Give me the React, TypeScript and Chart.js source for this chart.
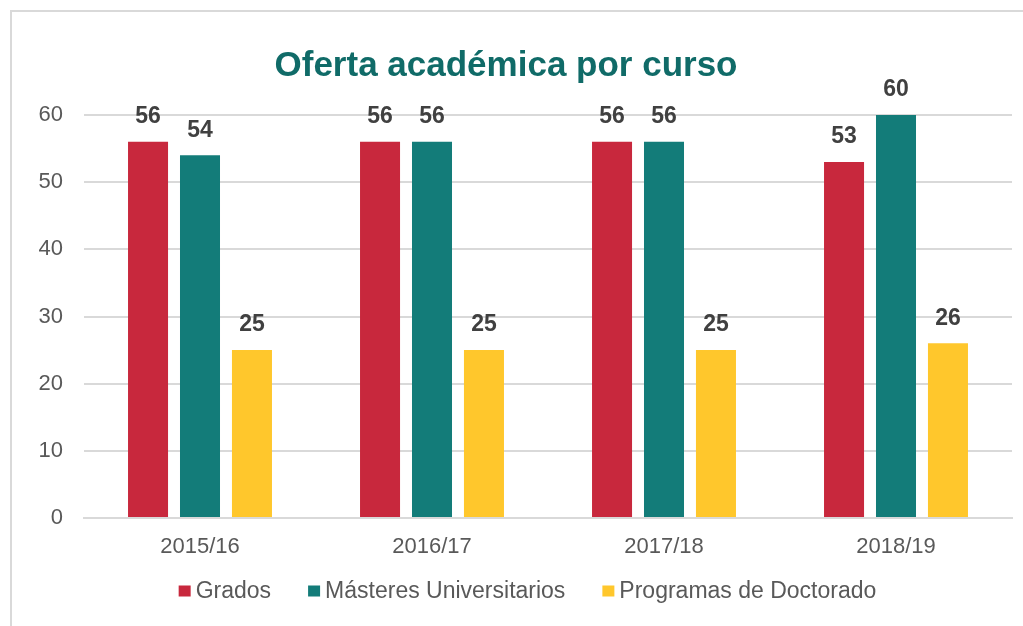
import React, { useEffect, useRef } from "react";
import { Chart, registerables } from "chart.js";

Chart.register(...registerables);

const categories = ["2015/16", "2016/17", "2017/18", "2018/19"];
const grados = [56, 56, 56, 53];
const masteres = [54, 56, 56, 60];
const doctorado = [25, 25, 25, 26];
const yTicks = [0, 10, 20, 30, 40, 50, 60];

const FONT = "'Liberation Sans', Arial, sans-serif";

const framePlugin = {
  id: "frame",
  beforeDraw(chart: any) {
    const ctx = chart.ctx;
    ctx.save();
    ctx.fillStyle = "#ffffff";
    ctx.fillRect(0, 0, chart.width, chart.height);
    ctx.strokeStyle = "#d9d9d9";
    ctx.lineWidth = 2;
    ctx.strokeRect(11, 11, chart.width + 20, chart.height + 20);
    ctx.restore();
  },
};

const labelPlugin = {
  id: "valueLabels",
  afterDatasetsDraw(chart: any) {
    const ctx = chart.ctx;
    ctx.save();
    ctx.font = `bold 23px ${FONT}`;
    ctx.fillStyle = "#404040";
    ctx.textAlign = "center";
    ctx.textBaseline = "middle";
    chart.data.datasets.forEach((ds: any, i: number) => {
      const meta = chart.getDatasetMeta(i);
      meta.data.forEach((bar: any, j: number) => {
        ctx.fillText(String(ds.data[j]), bar.x, bar.y - 25);
      });
    });
    ctx.restore();
  },
};

const legendPlugin = {
  id: "customLegend",
  afterDraw(chart: any) {
    const ctx = chart.ctx;
    ctx.save();
    ctx.font = `23px ${FONT}`;
    ctx.textBaseline = "middle";
    ctx.textAlign = "left";
    const boxW = 12;
    const boxH = 11;
    const gap = 5;
    const spacing = 37;
    const items = chart.data.datasets.map((ds: any) => ({
      text: ds.label,
      color: ds.backgroundColor,
      w: ctx.measureText(ds.label).width,
    }));
    const total =
      items.reduce((s: number, it: any) => s + boxW + gap + it.w, 0) + spacing * (items.length - 1);
    const cy = 591;
    let x = chart.width / 2 + 16 - total / 2;
    items.forEach((it: any) => {
      ctx.fillStyle = it.color;
      ctx.fillRect(x, cy - boxH / 2, boxW, boxH);
      x += boxW + gap;
      ctx.fillStyle = "#595959";
      ctx.fillText(it.text, x, cy + 1);
      x += it.w + spacing;
    });
    ctx.restore();
  },
};

export default function App() {
  const ref = useRef<HTMLCanvasElement | null>(null);
  useEffect(() => {
    if (!ref.current) return;
    const chart = new Chart(ref.current, {
      type: "bar",
      data: {
        labels: categories,
        datasets: [
          { label: "Grados", data: grados, backgroundColor: "#C8283D" },
          { label: "Másteres Universitarios", data: masteres, backgroundColor: "#137C79" },
          { label: "Programas de Doctorado", data: doctorado, backgroundColor: "#FFC72C" },
        ],
      },
      options: {
        responsive: false,
        animation: false,
        datasets: { bar: { categoryPercentage: 0.672, barPercentage: 0.77 } } as any,
        layout: { padding: { left: 0, right: 11, top: 0, bottom: 49.6 } },
        plugins: {
          title: {
            display: true,
            text: "Oferta académica por curso",
            color: "#106B68",
            font: { family: FONT, size: 35, weight: "bold" },
            padding: { top: 45, bottom: 28 },
          },
          legend: { display: false },
          tooltip: { enabled: false },
        },
        scales: {
          x: {
            grid: { display: false, drawTicks: false },
            border: { color: "#d9d9d9", width: 2 },
            ticks: { color: "#595959", font: { family: FONT, size: 22 }, padding: 16 },
          },
          y: {
            min: 0,
            max: 60,
            afterBuildTicks: (s: any) => {
              s.ticks = yTicks.map((v) => ({ value: v }));
            },
            grid: { color: "#d9d9d9", lineWidth: 2, drawTicks: false },
            border: { display: false },
            ticks: { color: "#595959", font: { family: FONT, size: 22 }, padding: 21 },
            afterFit: (s: any) => {
              s.width = 84;
            },
          },
        },
      },
      plugins: [framePlugin, labelPlugin, legendPlugin],
    });
    return () => chart.destroy();
  }, []);
  return (
    <div style={{ position: "absolute", left: 0, top: 0, width: 1023, height: 626 }}>
      <canvas ref={ref} width={1023} height={626} style={{ display: "block" }} />
    </div>
  );
}
